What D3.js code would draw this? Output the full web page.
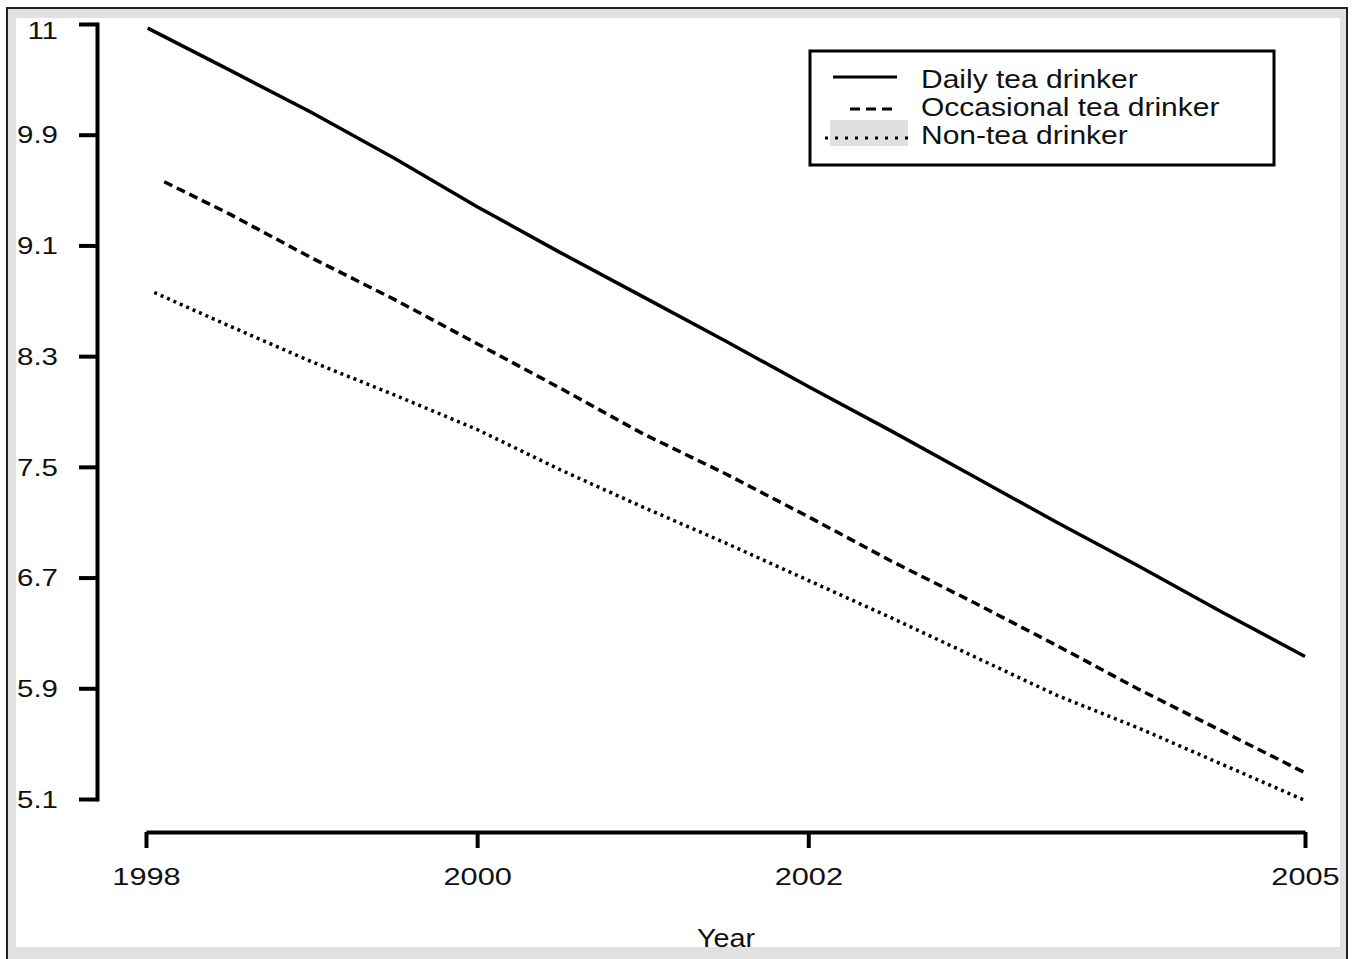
<!DOCTYPE html>
<html>
<head>
<meta charset="utf-8">
<script src="https://cdn.jsdelivr.net/npm/d3@7"></script>
<style>
  html, body { margin: 0; padding: 0; background: #ffffff; }
  svg { display: block; }
  text { font-family: "Liberation Sans", Arial, Helvetica, sans-serif; fill: #111; }
</style>
</head>
<body>
<script>
// ---- data ----
const xTickValues = [1998, 2000, 2002, 2005];
const xTickLabels = ["1998", "2000", "2002", "2005"];
const yTickValues = [5.1, 5.9, 6.7, 7.5, 8.3, 9.1, 9.9, 10.7];
const yTickLabels = ["5.1", "5.9", "6.7", "7.5", "8.3", "9.1", "9.9", "11"];

const dailyYears      = [1998.01, 1998.5, 1999, 1999.5, 2000, 2000.5, 2001, 2001.5, 2002, 2002.5, 2003, 2003.5, 2004, 2004.5, 2005];
const occasionalYears = [1998.11, 1998.5, 1999, 1999.5, 2000, 2000.5, 2001, 2001.5, 2002, 2002.5, 2003, 2003.5, 2004, 2004.5, 2005];
const nonTeaYears     = [1998.05, 1998.5, 1999, 1999.5, 2000, 2000.5, 2001, 2001.5, 2002, 2002.5, 2003, 2003.5, 2004, 2004.5, 2005];

const dailyValues      = [10.67, 10.37, 10.06, 9.73, 9.38, 9.05, 8.73, 8.41, 8.08, 7.76, 7.43, 7.10, 6.78, 6.45, 6.13];
const occasionalValues = [9.56, 9.33, 9.01, 8.71, 8.39, 8.07, 7.74, 7.45, 7.14, 6.82, 6.52, 6.21, 5.89, 5.59, 5.29];
const nonTeaValues     = [8.76, 8.52, 8.26, 8.02, 7.77, 7.48, 7.21, 6.95, 6.68, 6.41, 6.13, 5.85, 5.61, 5.35, 5.09];

const seriesNames = ["Daily tea drinker", "Occasional tea drinker", "Non-tea drinker"];
const xTitle = "Year";

// ---- layout ----
const W = 1355, H = 959;
const svg = d3.select("body").append("svg").attr("width", W).attr("height", H);

// frame
svg.append("rect").attr("x", 7).attr("y", 8).attr("width", 1340).attr("height", 970)
  .attr("fill", "#e1e1e1").attr("stroke", "#222").attr("stroke-width", 2);
svg.append("defs").append("clipPath").attr("id", "inner")
  .append("rect").attr("x", 16).attr("y", 18).attr("width", 1324).attr("height", 929);
svg.append("rect").attr("x", 16).attr("y", 18).attr("width", 1324).attr("height", 929).attr("fill", "#fff");

const g = svg.append("g");
const clipped = svg.append("g").attr("clip-path", "url(#inner)");

const x = d3.scaleLinear().domain([1998, 2005]).range([146, 1305]);
const y = d3.scaleLinear().domain([5.1, 10.7]).range([799, 24]);

function stretch(sel, k) {
  sel.each(function () {
    const w = this.getComputedTextLength();
    d3.select(this).attr("textLength", w * k).attr("lengthAdjust", "spacingAndGlyphs");
  });
}

// y axis
const yAxis = g.append("g").attr("transform", "translate(97,0)")
  .call(d3.axisLeft(y).tickValues(yTickValues)
    .tickFormat((d, i) => yTickLabels[i]).tickSize(18).tickSizeOuter(0).tickPadding(21));
yAxis.select(".domain").attr("stroke", "#000").attr("stroke-width", 4).attr("stroke-linecap", "square");
yAxis.selectAll(".tick line").attr("stroke", "#000").attr("stroke-width", 4);
yAxis.selectAll(".tick text").attr("font-size", 23).attr("fill", "#111")
  .attr("font-family", "Liberation Sans, Arial, sans-serif").attr("dy", "0.36em");
yAxis.selectAll(".tick text").filter((d, i) => i === yTickValues.length - 1).attr("y", 6);
stretch(yAxis.selectAll(".tick text"), 1.28);

// x axis
const xAxis = g.append("g").attr("transform", "translate(0,832)")
  .call(d3.axisBottom(x).tickValues(xTickValues)
    .tickFormat((d, i) => xTickLabels[i]).tickSize(16).tickSizeOuter(0).tickPadding(20));
xAxis.select(".domain").attr("stroke", "#000").attr("stroke-width", 4);
xAxis.selectAll(".tick line").attr("stroke", "#000").attr("stroke-width", 4);
xAxis.selectAll(".tick text").attr("font-size", 24).attr("fill", "#111")
  .attr("font-family", "Liberation Sans, Arial, sans-serif").attr("dy", "0.71em");
stretch(xAxis.selectAll(".tick text"), 1.28);

const yt = clipped.append("text").attr("x", 726).attr("y", 947).attr("text-anchor", "middle")
  .attr("font-size", 25).text(xTitle);
stretch(yt, 1.15);

// lines
const line = d3.line().x(d => x(d[0])).y(d => y(d[1]));
const series = [
  { years: dailyYears, values: dailyValues, dash: null, width: 3.5 },
  { years: occasionalYears, values: occasionalValues, dash: "9,5", width: 3.5 },
  { years: nonTeaYears, values: nonTeaValues, dash: "3,4", width: 3.5 }
];
series.forEach(s => {
  g.append("path")
    .datum(s.years.map((yr, i) => [yr, s.values[i]]))
    .attr("d", line)
    .attr("fill", "none").attr("stroke", "#000")
    .attr("stroke-width", s.width)
    .attr("stroke-linejoin", "round")
    .attr("stroke-dasharray", s.dash);
});

// legend
const lg = g.append("g");
lg.append("rect").attr("x", 810).attr("y", 51).attr("width", 464).attr("height", 114)
  .attr("fill", "#fff").attr("stroke", "#000").attr("stroke-width", 3);
lg.append("rect").attr("x", 830).attr("y", 120).attr("width", 78).attr("height", 26).attr("fill", "#e0e0e0");
const legSamples = [
  { x1: 833, x2: 897, yy: 77, dash: null },
  { x1: 850, x2: 898, yy: 109, dash: "10,6" },
  { x1: 825, x2: 914, yy: 138, dash: "3,7" }
];
legSamples.forEach((s, i) => {
  lg.append("line").attr("x1", s.x1).attr("x2", s.x2).attr("y1", s.yy).attr("y2", s.yy)
    .attr("stroke", "#000").attr("stroke-width", 3).attr("stroke-dasharray", s.dash);
});
const legBase = [88, 116, 144];
const legText = lg.selectAll("text.leg").data(seriesNames).join("text")
  .attr("class", "leg").attr("x", 921).attr("y", (d, i) => legBase[i])
  .attr("font-size", 25).text(d => d);
stretch(legText, 1.2);
</script>
</body>
</html>
